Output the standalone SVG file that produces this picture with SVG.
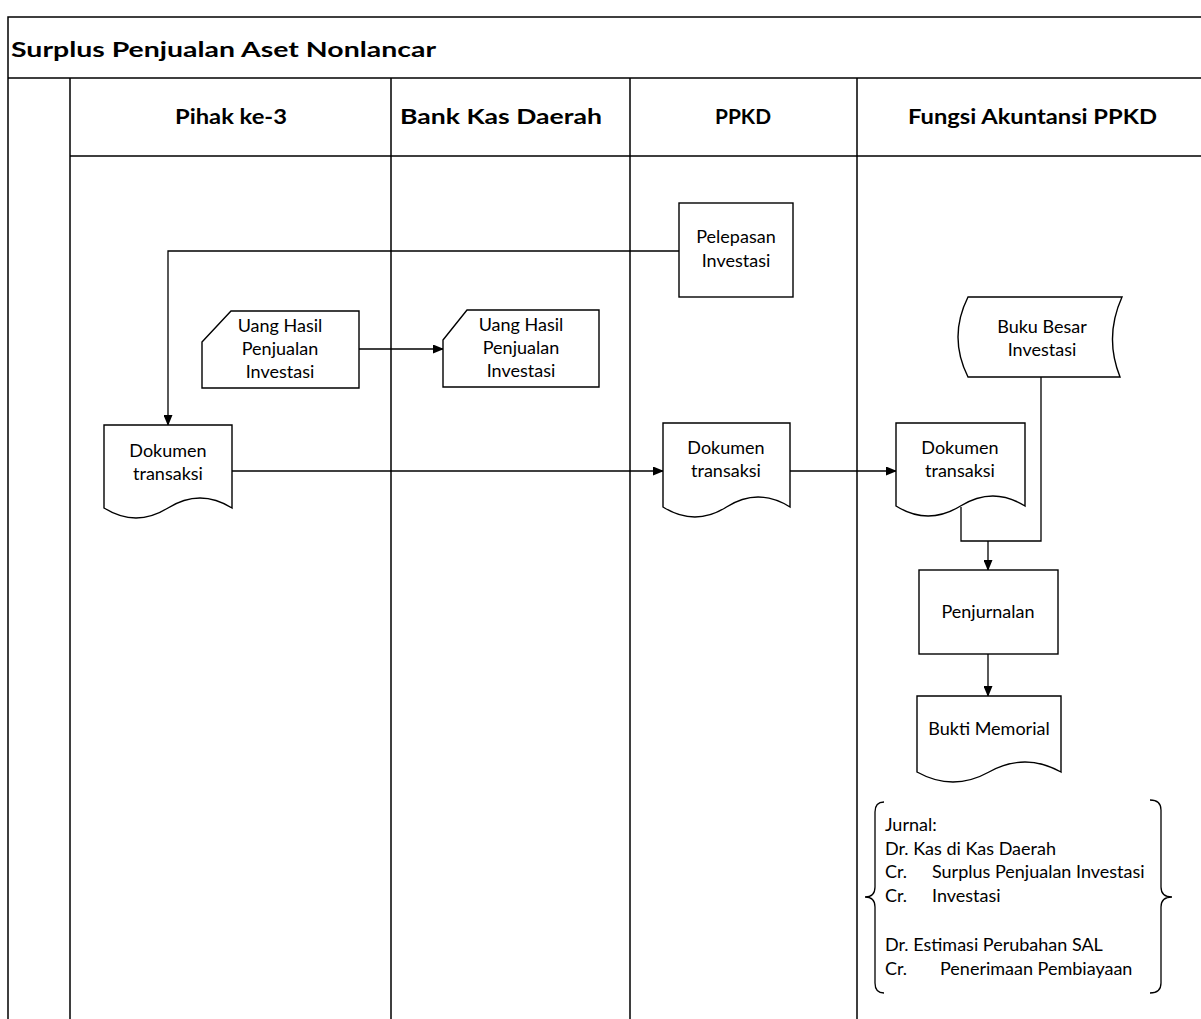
<svg xmlns="http://www.w3.org/2000/svg" width="1201" height="1019" viewBox="0 0 1201 1019">
<defs>
<style>
.frame{fill:none;stroke:#000;stroke-width:1.5}
.shape{fill:#fff;stroke:#000;stroke-width:1.4}
.conn{fill:none;stroke:#000;stroke-width:1.3}
.t{font-family:Lato,"Liberation Sans",sans-serif;font-size:18px;fill:#000;text-anchor:middle}
.h{font-family:Lato,"Liberation Sans",sans-serif;font-size:20px;font-weight:bold;fill:#000}
.j{font-family:Lato,"Liberation Sans",sans-serif;font-size:18px;fill:#000}
</style>
<marker id="arr" markerWidth="11" markerHeight="9" refX="10" refY="4.5" orient="auto" markerUnits="userSpaceOnUse">
<path d="M0,0 L11,4.5 L0,9 z" fill="#000"/>
</marker>
</defs>
<rect width="1201" height="1019" fill="#fff"/>
<g id="frame">
<path class="frame" d="M8,1019 V17 H1201 M8,78 H1201 M70,156 H1201 M70,78 V1019 M391,78 V1019 M630,78 V1019 M857,78 V1019"/>
<text class="h" x="11" y="57" font-size="23" textLength="425" lengthAdjust="spacingAndGlyphs">Surplus Penjualan Aset Nonlancar</text>
<text class="h" x="175" y="124" textLength="112" lengthAdjust="spacingAndGlyphs">Pihak ke-3</text>
<text class="h" x="400" y="124" textLength="202" lengthAdjust="spacingAndGlyphs">Bank Kas Daerah</text>
<text class="h" x="715" y="124" textLength="56" lengthAdjust="spacingAndGlyphs">PPKD</text>
<text class="h" x="908" y="124" textLength="249" lengthAdjust="spacingAndGlyphs">Fungsi Akuntansi PPKD</text>
</g>
<g id="connectors">
<path class="conn" d="M679,251 H168 V425" marker-end="url(#arr)"/>
<path class="conn" d="M359,349 H443" marker-end="url(#arr)"/>
<path class="conn" d="M232,471 H663" marker-end="url(#arr)"/>
<path class="conn" d="M790,471 H896" marker-end="url(#arr)"/>
<path class="conn" d="M961,507 V541 H988"/>
<path class="conn" d="M1041,377 V541 H988"/>
<path class="conn" d="M988,541 V570" marker-end="url(#arr)"/>
<path class="conn" d="M988,654 V696" marker-end="url(#arr)"/>
</g>
<g id="pelepasan">
<rect class="shape" x="679" y="203" width="114" height="94"/>
<text class="t" x="736" y="243">Pelepasan</text>
<text class="t" x="736" y="267">Investasi</text>
</g>
<g id="uang1">
<path class="shape" d="M202,342 L231,311 H359 V388 H202 Z"/>
<text class="t" x="280" y="332">Uang Hasil</text>
<text class="t" x="280" y="355">Penjualan</text>
<text class="t" x="280" y="378">Investasi</text>
</g>
<g id="uang2">
<path class="shape" d="M443,340 L467,310 H599 V387 H443 Z"/>
<text class="t" x="521" y="331">Uang Hasil</text>
<text class="t" x="521" y="354">Penjualan</text>
<text class="t" x="521" y="377">Investasi</text>
</g>
<g id="dok1">
<path class="shape" d="M104,425 H232 V508 Q200,488 168,508 T104,508 Z"/>
<text class="t" x="168" y="457">Dokumen</text>
<text class="t" x="168" y="480">transaksi</text>
</g>
<g id="dok2">
<path class="shape" d="M663,423 H790 V507 Q758,487 726.5,507 T663,507 Z"/>
<text class="t" x="726" y="454">Dokumen</text>
<text class="t" x="726" y="477">transaksi</text>
</g>
<g id="dok3">
<path class="shape" d="M896,423 H1025 V506 Q993,486 960.5,506 T896,506 Z"/>
<text class="t" x="960" y="454">Dokumen</text>
<text class="t" x="960" y="477">transaksi</text>
</g>
<g id="bukubesar">
<path class="shape" d="M968,297 H1122 Q1104,337 1120,377 H968 Q948,337 968,297 Z"/>
<text class="t" x="1042" y="333">Buku Besar</text>
<text class="t" x="1042" y="356">Investasi</text>
</g>
<g id="penjurnalan">
<rect class="shape" x="919" y="570" width="139" height="84"/>
<text class="t" x="988" y="618">Penjurnalan</text>
</g>
<g id="bukti">
<path class="shape" d="M917,696 H1061 V772 Q1025,752 989,772 T917,772 Z"/>
<text class="t" x="989" y="735">Bukti Memorial</text>
</g>
<g id="jurnal">
<path class="conn" d="M884,802 Q875,802 875,812 V887 Q875,897 865,897 Q875,897 875,907 V983 Q875,993 884,993"/>
<path class="conn" d="M1150,800 Q1161,800 1161,810 V887 Q1161,897 1172,897 Q1161,897 1161,907 V983 Q1161,993 1150,993"/>
<text class="j" x="885" y="831">Jurnal:</text>
<text class="j" x="885" y="855">Dr. Kas di Kas Daerah</text>
<text class="j" x="885" y="878">Cr.</text>
<text class="j" x="932" y="878">Surplus Penjualan Investasi</text>
<text class="j" x="885" y="902">Cr.</text>
<text class="j" x="932" y="902">Investasi</text>
<text class="j" x="885" y="951">Dr. Estimasi Perubahan SAL</text>
<text class="j" x="885" y="975">Cr.</text>
<text class="j" x="940" y="975">Penerimaan Pembiayaan</text>
</g>
</svg>
